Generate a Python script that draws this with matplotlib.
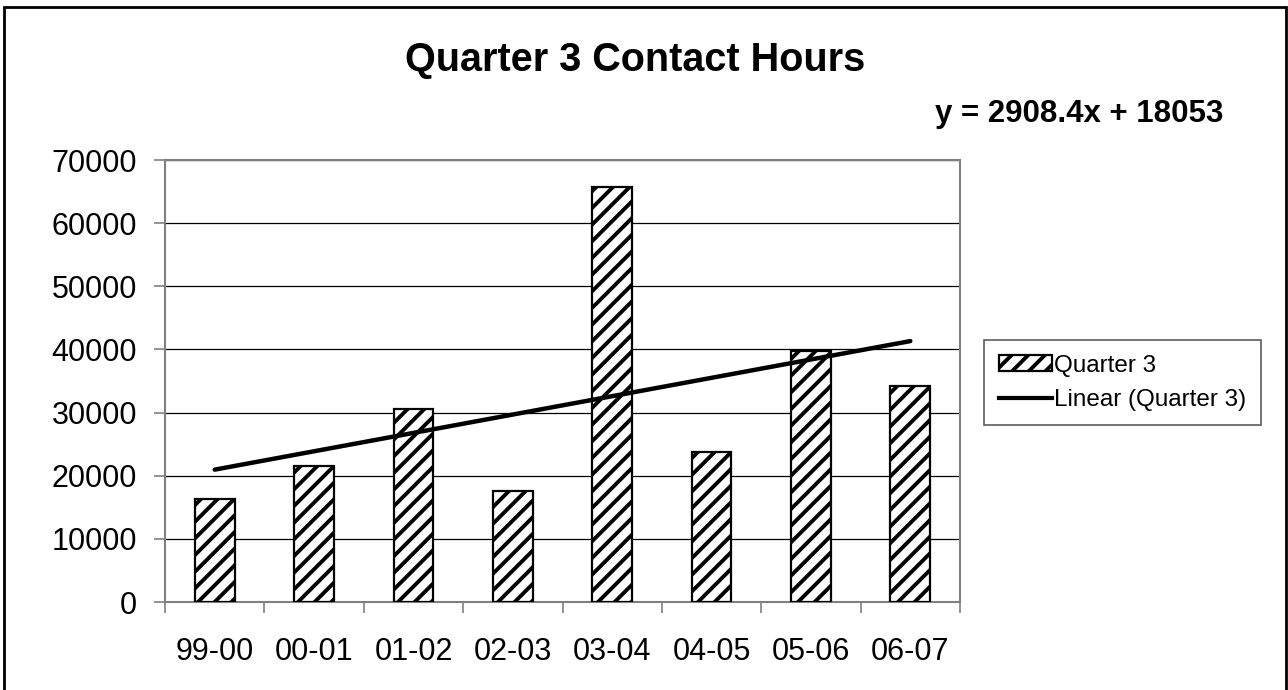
import matplotlib.pyplot as plt
from matplotlib.patches import Rectangle
from matplotlib.lines import Line2D

plt.rcParams['font.family'] = ['Liberation Sans', 'DejaVu Sans']
plt.rcParams['hatch.linewidth'] = 2.8

# data
categories = ['99-00', '00-01', '01-02', '02-03', '03-04', '04-05', '05-06', '06-07']
values = [16250, 21520, 30600, 17560, 65660, 23730, 39720, 34130]
slope = 2908.4
intercept = 18053
title = 'Quarter 3 Contact Hours'
series_name = 'Quarter 3'

fig = plt.figure(figsize=(12.88, 6.9), dpi=100)
ax = fig.add_axes([165 / 1288, 1 - 602 / 690, 795 / 1288, 442 / 690])

x = list(range(len(categories)))
bars = ax.bar(x, values, width=0.4, color='white', edgecolor='black',
              hatch='//', linewidth=1.6, zorder=3)

# linear trendline (Excel numbers categories from 1)
tx = [x[0], x[-1]]
ty = [slope * (i + 1) + intercept for i in tx]
ax.plot(tx, ty, color='black', linewidth=3.2, solid_capstyle='round', zorder=4)

ax.set_xlim(-0.5, len(categories) - 0.5)
ax.set_ylim(0, 70000)
ax.set_yticks(range(0, 70001, 10000))
ax.yaxis.grid(True, color='black', linewidth=0.9, zorder=0)

# ticks between categories, labels under the bars
ax.set_xticks([i - 0.5 for i in range(len(categories) + 1)])
ax.set_xticklabels([])
ax.set_xticks(x, minor=True)
ax.set_xticklabels(categories, minor=True)
ax.tick_params(axis='x', which='major', length=8, width=1.2, color='#808080', direction='out')
ax.tick_params(axis='x', which='minor', length=0, pad=25, labelsize=22)
ax.tick_params(axis='y', length=8, width=1.2, color='#808080', direction='out', pad=12, labelsize=22)

for s in ax.spines.values():
    s.set_color('#808080')
    s.set_linewidth(1.5)

fig.text(635 / 1288, 1 - 60 / 690, title, ha='center', va='center',
         fontsize=28.5, fontweight='bold')
fig.text(1223 / 1288, 1 - 114 / 690, 'y = 2908.4x + 18053', ha='right', va='center',
         fontsize=22.5, fontweight='bold')

handles = [
    Rectangle((0, 0), 1, 1, facecolor='white', edgecolor='black', hatch='//', linewidth=1.6),
    Line2D([0], [0], color='black', linewidth=3),
]
leg = fig.legend(handles, [series_name, 'Linear (Quarter 3)'],
                 loc='upper left', bbox_to_anchor=(984 / 1288, 1 - 340 / 690),
                 fontsize=17.5, frameon=True, fancybox=False, edgecolor='#333333',
                 handlelength=2.2, handleheight=0.6, handletextpad=0.1,
                 labelspacing=0.5, borderpad=0.6, borderaxespad=0)
leg.get_frame().set_linewidth(1.2)

# chart area border
fig.patches.append(Rectangle((4 / 1288, -0.02), 1282 / 1288, 1.02 - 7 / 690,
                             transform=fig.transFigure, fill=False,
                             edgecolor='black', linewidth=2))

fig.savefig('out.png', dpi=100)
